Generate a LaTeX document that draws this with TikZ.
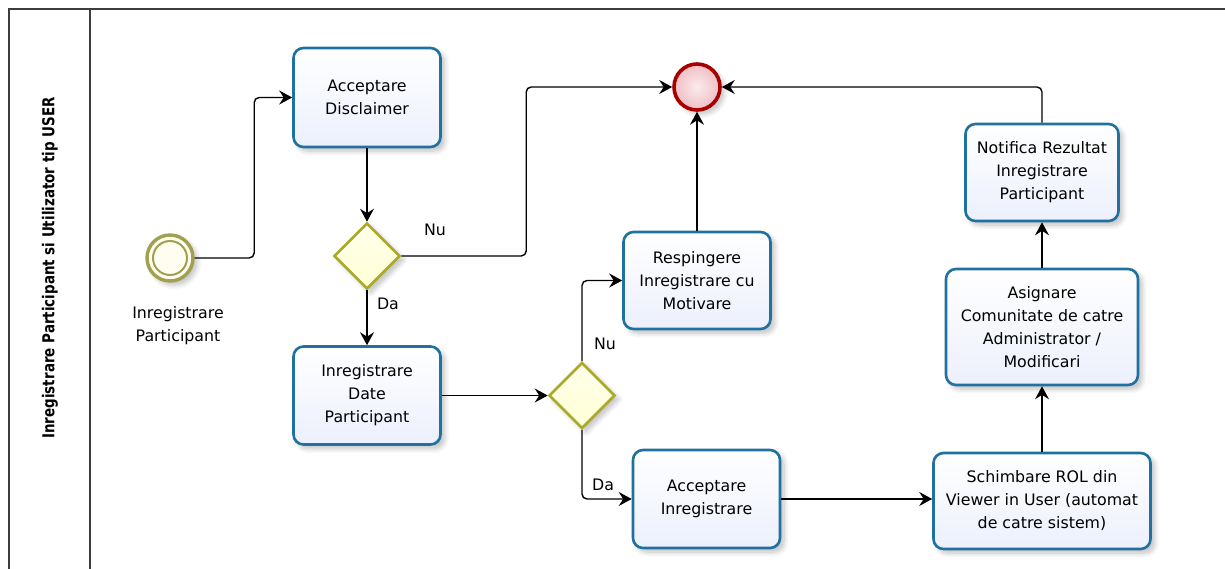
\documentclass[tikz,border=0pt]{standalone}
\usepackage{fontspec}
\setmainfont{DejaVu Sans}
\usetikzlibrary{arrows.meta,shapes.geometric,shadows.blur,calc}

\definecolor{taskline}{RGB}{32,112,160}
\definecolor{taskfill}{RGB}{236,240,252}
\definecolor{gwline}{RGB}{170,170,40}
\definecolor{gwfill}{RGB}{255,255,214}
\definecolor{evline}{RGB}{160,160,80}
\definecolor{evfill}{RGB}{255,252,240}
\definecolor{endline}{RGB}{168,0,0}
\definecolor{endfill}{RGB}{240,190,195}
\definecolor{frameline}{RGB}{60,60,60}

\tikzset{
  softshadow/.style={blur shadow={shadow xshift=4pt, shadow yshift=-4pt,
      shadow blur steps=8, shadow blur radius=5pt, shadow opacity=25}},
  task/.style={rectangle, rounded corners=10pt, draw=taskline, line width=2.6pt,
      top color=white, bottom color=taskfill, align=center, inner sep=2pt,
      font=\fontsize{15.8}{23}\selectfont, softshadow},
  gateway/.style={diamond, aspect=1, draw=gwline, line width=2.6pt,
      top color=gwfill!50, bottom color=gwfill, minimum size=66pt, inner sep=0pt,
      softshadow},
  flow/.style={draw=black, line width=1.4pt, rounded corners=5pt,
      -{Stealth[length=13pt,width=14pt,inset=4.5pt]}},
  lbl/.style={font=\fontsize{15.8}{23}\selectfont, inner sep=0pt},
}

\begin{document}
\begin{tikzpicture}[x=1pt, y=-1pt]
\useasboundingbox (0,0) rectangle (1225,569);

% pool frame and lane header
\draw[frameline, line width=1.8pt] (1225,9) -- (9,9) -- (9,569);
\draw[frameline, line width=1.8pt] (90,9) -- (90,569);
\node[rotate=90, inner sep=0pt] (lane) at (50,268)
  {\scalebox{0.82}[1]{\fontsize{16.4}{19}\selectfont\bfseries Inregistrare Participant si Utilizator tip USER}};

% start event
\node[circle, draw=evline, line width=3.4pt, fill=evfill, minimum size=46pt,
      inner sep=0pt, softshadow] (start) at (170,258) {};
\draw[evline, line width=2pt] (start.center) circle (17pt);
\node[lbl, align=center] (startlbl) at (178,326)
  {Inregistrare\\Participant};

% end event
\node[circle, draw=endline, line width=3.6pt, inner color=white!70!endfill,
      outer color=endfill, minimum size=46pt, inner sep=0pt, softshadow] (endE) at (697,87) {};

% tasks
\node[task, minimum width=147pt, minimum height=99pt] (dis) at (367,97.5)
  {Acceptare\\Disclaimer};
\node[task, minimum width=147pt, minimum height=98pt] (date) at (367,395.5)
  {Inregistrare\\Date\\Participant};
\node[task, minimum width=147pt, minimum height=97pt] (resp) at (697,280.5)
  {Respingere\\Inregistrare cu\\Motivare};
\node[task, minimum width=147pt, minimum height=98pt] (accI) at (706.5,499)
  {Acceptare\\Inregistrare};
\node[task, minimum width=217pt, minimum height=96pt] (sch) at (1042,501)
  {Schimbare ROL din\\Viewer in User (automat\\de catre sistem)};
\node[task, minimum width=192pt, minimum height=116pt] (asg) at (1042,327)
  {Asignare\\Comunitate de catre\\Administrator /\\Modificari};
\node[task, minimum width=153pt, minimum height=97pt] (notif) at (1042,172.5)
  {Notifica Rezultat\\Inregistrare\\Participant};

% gateways
\node[gateway] (gw1) at (367,256) {};
\node[gateway] (gw2) at (582,395.5) {};

% sequence flows
\draw[flow] (start.east) -| ([xshift=-38pt]dis.west) -- (dis.west);
\draw[flow] (dis.south) -- (gw1.north);
\draw[flow] (gw1.east) -| ([xshift=-146pt]endE.west) -- (endE.west);
\draw[flow] (gw1.south) -- (date.north);
\draw[flow] (date.east) -- (gw2.west);
\draw[flow] (gw2.north) |- (resp.west);
\draw[flow] (gw2.south) |- (accI.west);
\draw[flow] (resp.north) -- (endE.south);
\draw[flow] (accI.east) -- (accI.east -| sch.west);
\draw[flow] (sch.north) -- (asg.south);
\draw[flow] (asg.north) -- (notif.south);
\draw[flow] (notif.north) |- (endE.east);

% gateway labels
\node[lbl] (nu1) at (435,230) {Nu};
\node[lbl] (da1) at (388,304) {Da};
\node[lbl] (nu2) at (605,344) {Nu};
\node[lbl] (da2) at (603,485) {Da};
\end{tikzpicture}
\end{document}
